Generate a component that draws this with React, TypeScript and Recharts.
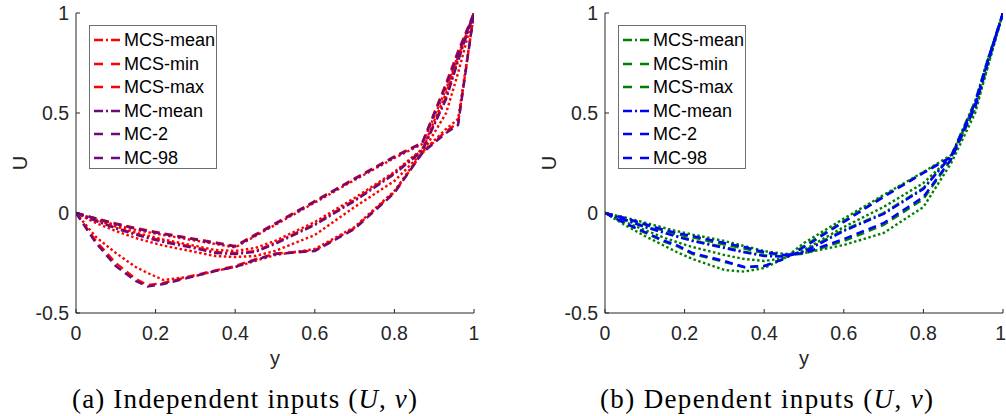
import { LineChart, Line, XAxis, YAxis, Legend } from "recharts";

// positions across the channel (x axis, labelled "y")
const positions = [0, 0.05, 0.1, 0.15, 0.18, 0.22, 0.3, 0.35, 0.4, 0.45, 0.5, 0.6, 0.7, 0.8, 0.87, 0.93, 0.96, 1];
const xTicks = [0, 0.2, 0.4, 0.6, 0.8, 1];
const yTicks = [-0.5, 0, 0.5, 1];

// (a) independent inputs
const indMcsMean = [0, -0.038, -0.074, -0.104, -0.12, -0.14, -0.172, -0.195, -0.2, -0.19, -0.15, -0.055, 0.065, 0.2, 0.315, 0.58, 0.77, 1];
const indMcsMin = [0, -0.14, -0.25, -0.33, -0.36, -0.35, -0.31, -0.287, -0.265, -0.232, -0.203, -0.187, -0.075, 0.105, 0.3, 0.41, 0.45, 1];
const indMcsMax = [0, -0.026, -0.052, -0.075, -0.087, -0.102, -0.13, -0.147, -0.165, -0.108, -0.052, 0.06, 0.173, 0.283, 0.352, 0.65, 0.81, 1];
const indMcMean = [0, -0.04, -0.077, -0.108, -0.125, -0.145, -0.177, -0.2, -0.205, -0.195, -0.155, -0.06, 0.06, 0.195, 0.31, 0.57, 0.76, 1];
const indMc2 = [0, -0.15, -0.265, -0.34, -0.368, -0.355, -0.315, -0.29, -0.27, -0.235, -0.205, -0.19, -0.08, 0.1, 0.3, 0.4, 0.44, 1];
const indMc98 = [0, -0.028, -0.055, -0.078, -0.09, -0.105, -0.133, -0.15, -0.168, -0.112, -0.056, 0.057, 0.17, 0.28, 0.35, 0.64, 0.8, 1];
// unlabelled MCS runs (dotted)
const indRunLow = [0, -0.12, -0.2, -0.27, -0.3, -0.335, -0.315, -0.29, -0.27, -0.24, -0.21, -0.18, -0.07, 0.11, 0.305, 0.42, 0.47, 1];
const indRunMidLow = [0, -0.05, -0.09, -0.125, -0.142, -0.163, -0.195, -0.215, -0.22, -0.215, -0.19, -0.11, 0.03, 0.16, 0.3, 0.5, 0.7, 1];
const indRunMidHigh = [0, -0.035, -0.068, -0.098, -0.113, -0.133, -0.165, -0.185, -0.19, -0.175, -0.14, -0.045, 0.075, 0.205, 0.32, 0.6, 0.78, 1];
const indRunHigh = [0, -0.032, -0.06, -0.084, -0.096, -0.11, -0.138, -0.155, -0.172, -0.116, -0.06, 0.052, 0.165, 0.275, 0.345, 0.62, 0.79, 1];

// (b) dependent inputs
const depMcsMean = [0, -0.032, -0.066, -0.096, -0.114, -0.136, -0.171, -0.193, -0.212, -0.216, -0.19, -0.085, 0.0, 0.125, 0.288, 0.56, 0.755, 1];
const depMcsMin = [0, -0.028, -0.058, -0.09, -0.106, -0.122, -0.158, -0.178, -0.2, -0.212, -0.203, -0.14, -0.06, 0.07, 0.268, 0.53, 0.74, 1];
const depMcsMax = [0, -0.052, -0.098, -0.145, -0.165, -0.205, -0.245, -0.272, -0.265, -0.228, -0.165, -0.04, 0.085, 0.203, 0.282, 0.535, 0.745, 1];
const depMcMean = [0, -0.035, -0.07, -0.1, -0.118, -0.14, -0.175, -0.197, -0.215, -0.218, -0.195, -0.09, -0.005, 0.12, 0.285, 0.55, 0.75, 1];
const depMc2 = [0, -0.025, -0.055, -0.085, -0.1, -0.115, -0.15, -0.17, -0.195, -0.21, -0.2, -0.13, -0.05, 0.08, 0.27, 0.54, 0.75, 1];
const depMc98 = [0, -0.05, -0.095, -0.14, -0.16, -0.2, -0.24, -0.27, -0.265, -0.23, -0.17, -0.045, 0.08, 0.2, 0.28, 0.53, 0.74, 1];
const depRunA = [0, -0.06, -0.115, -0.165, -0.195, -0.23, -0.285, -0.293, -0.275, -0.228, -0.15, -0.028, 0.09, 0.205, 0.29, 0.52, 0.72, 1];
const depRunB = [0, -0.022, -0.048, -0.075, -0.09, -0.108, -0.14, -0.165, -0.19, -0.205, -0.2, -0.16, -0.1, 0.03, 0.25, 0.5, 0.72, 1];
const depRunC = [0, -0.045, -0.085, -0.125, -0.145, -0.17, -0.21, -0.23, -0.24, -0.225, -0.185, -0.07, 0.03, 0.15, 0.28, 0.55, 0.76, 1];

const SANS = '"Liberation Sans", Arial, Helvetica, sans-serif';
const SERIF = '"Liberation Serif", "Times New Roman", serif';
const AXIS = "#262626";
const RED = "#FF0000";
const PURPLE = "#6B0A78";
const GREEN = "#008000";
const BLUE = "#0000FF";

const DASHDOT = "8 3 2 3";
const DASHED = "8 5";
const DOTTED = "2.5 2.5";

type Series = { key: string; name: string; values: number[]; color: string; dash: string; legend: boolean };

const leftSeries: Series[] = [
  { key: "r1", name: "run-low", values: indRunLow, color: RED, dash: DOTTED, legend: false },
  { key: "r2", name: "run-midlow", values: indRunMidLow, color: RED, dash: DOTTED, legend: false },
  { key: "r3", name: "run-midhigh", values: indRunMidHigh, color: RED, dash: DOTTED, legend: false },
  { key: "r4", name: "run-high", values: indRunHigh, color: RED, dash: DOTTED, legend: false },
  { key: "a", name: "MCS-mean", values: indMcsMean, color: RED, dash: DASHDOT, legend: true },
  { key: "b", name: "MCS-min", values: indMcsMin, color: RED, dash: DASHED, legend: true },
  { key: "c", name: "MCS-max", values: indMcsMax, color: RED, dash: DASHED, legend: true },
  { key: "d", name: "MC-mean", values: indMcMean, color: PURPLE, dash: DASHDOT, legend: true },
  { key: "e", name: "MC-2", values: indMc2, color: PURPLE, dash: DASHED, legend: true },
  { key: "f", name: "MC-98", values: indMc98, color: PURPLE, dash: DASHED, legend: true },
];

const rightSeries: Series[] = [
  { key: "r1", name: "run-a", values: depRunA, color: GREEN, dash: DOTTED, legend: false },
  { key: "r2", name: "run-b", values: depRunB, color: GREEN, dash: DOTTED, legend: false },
  { key: "r3", name: "run-c", values: depRunC, color: GREEN, dash: DOTTED, legend: false },
  { key: "a", name: "MCS-mean", values: depMcsMean, color: GREEN, dash: DASHDOT, legend: true },
  { key: "b", name: "MCS-min", values: depMcsMin, color: GREEN, dash: DASHED, legend: true },
  { key: "c", name: "MCS-max", values: depMcsMax, color: GREEN, dash: DASHED, legend: true },
  { key: "d", name: "MC-mean", values: depMcMean, color: BLUE, dash: DASHDOT, legend: true },
  { key: "e", name: "MC-2", values: depMc2, color: BLUE, dash: DASHED, legend: true },
  { key: "f", name: "MC-98", values: depMc98, color: BLUE, dash: DASHED, legend: true },
];

const buildRows = (series: Series[]) =>
  positions.map((x, i) => {
    const row: Record<string, number> = { x };
    series.forEach((s) => (row[s.key] = s.values[i]));
    return row;
  });

// x tick: inward tick mark + label; the last label of the right panel is kept inside the page
const makeXTick = (clipLast: boolean) => (props: any) => {
  const { x, y, payload } = props;
  const last = clipLast && payload.value === 1;
  return (
    <g>
      <line x1={x} x2={x} y1={y} y2={y - 4} stroke={AXIS} />
      <text
        x={last ? x + 3 : x}
        y={y + 27}
        textAnchor={last ? "end" : "middle"}
        fill={AXIS}
        fontSize={19.5}
        fontFamily={SANS}
      >
        {String(payload.value)}
      </text>
    </g>
  );
};

const YTick = (props: any) => {
  const { x, y, payload } = props;
  return (
    <g>
      <line x1={x} x2={x + 4} y1={y} y2={y} stroke={AXIS} />
      <text x={x - 7} y={y + 7} textAnchor="end" fill={AXIS} fontSize={19.5} fontFamily={SANS}>
        {String(payload.value)}
      </text>
    </g>
  );
};

const LegendBox = ({ items }: { items: Series[] }) => (
  <div
    style={{
      position: "relative",
      width: 128,
      height: 144,
      border: "1px solid #6e6e6e",
      background: "#fff",
      boxSizing: "border-box",
    }}
  >
    {items.map((s, i) => (
      <div key={s.key} style={{ position: "absolute", left: 0, top: 2 + i * 23.6, height: 24, display: "flex", alignItems: "center" }}>
        <svg width={34} height={24} style={{ display: "block" }}>
          <line x1={4} x2={31} y1={12} y2={12} stroke={s.color} strokeWidth={2.4} strokeDasharray={s.dash === DASHED ? "9 8" : "9 3 2 3"} />
        </svg>
        <span style={{ fontFamily: SANS, fontSize: 18, color: "#000", lineHeight: "24px", whiteSpace: "nowrap" }}>{s.name}</span>
      </div>
    ))}
  </div>
);

function Panel({ left, width, series, clipLast }: { left: number; width: number; series: Series[]; clipLast: boolean }) {
  const rows = buildRows(series);
  const legendItems = series.filter((s) => s.legend);
  const XTick = makeXTick(clipLast);
  return (
    <div style={{ position: "absolute", left, top: 0 }}>
      <LineChart width={width} height={416} data={rows} margin={{ top: 13, right: width - 474, bottom: 0, left: 0 }}>
        <XAxis
          dataKey="x"
          type="number"
          domain={[0, 1]}
          ticks={xTicks}
          interval={0}
          height={103}
          tickSize={0}
          tickMargin={0}
          tick={<XTick />}
          stroke={AXIS}
          allowDataOverflow
          label={{
            content: (p: any) => (
              <text x={p.viewBox.x + p.viewBox.width / 2} y={p.viewBox.y + 52} textAnchor="middle" fill={AXIS} fontSize={20} fontFamily={SANS}>
                y
              </text>
            ),
          }}
        />
        <YAxis
          type="number"
          domain={[-0.5, 1]}
          ticks={yTicks}
          interval={0}
          width={76}
          tickSize={0}
          tickMargin={0}
          tick={<YTick />}
          stroke={AXIS}
          allowDataOverflow
          label={{
            content: (p: any) => {
              const cy = p.viewBox.y + p.viewBox.height / 2;
              return (
                <text x={27} y={cy} transform={`rotate(-90, 27, ${cy})`} textAnchor="middle" fill={AXIS} fontSize={20} fontFamily={SANS}>
                  U
                </text>
              );
            },
          }}
        />
        {series.map((s) => (
          <Line
            key={s.key}
            dataKey={s.key}
            name={s.name}
            type="linear"
            stroke={s.color}
            strokeWidth={2.4}
            strokeDasharray={s.dash}
            dot={false}
            activeDot={false}
            legendType={s.legend ? "line" : "none"}
            isAnimationActive={false}
          />
        ))}
        <Legend
          layout="vertical"
          align="center"
          verticalAlign="middle"
          wrapperStyle={{ left: 89, top: 25, width: 128, height: 144 }}
          content={() => <LegendBox items={legendItems} />}
        />
      </LineChart>
    </div>
  );
}

export default function App() {
  return (
    <div style={{ position: "absolute", left: 0, top: 0, width: 1006, height: 416, background: "#fff", overflow: "hidden" }}>
      <Panel left={0} width={500} series={leftSeries} clipLast={false} />
      <Panel left={529} width={477} series={rightSeries} clipLast={true} />
      <svg width={1006} height={416} style={{ position: "absolute", left: 0, top: 0, pointerEvents: "none" }}>
        <text x={72} y={408} fontFamily={SERIF} fontSize={27} fill="#000" textLength={345} lengthAdjust="spacing">
          (a) Independent inputs (<tspan fontStyle="italic">U</tspan>, <tspan fontStyle="italic">ν</tspan>)
        </text>
        <text x={600} y={408} fontFamily={SERIF} fontSize={27} fill="#000" textLength={333} lengthAdjust="spacing">
          (b) Dependent inputs (<tspan fontStyle="italic">U</tspan>, <tspan fontStyle="italic">ν</tspan>)
        </text>
      </svg>
    </div>
  );
}
